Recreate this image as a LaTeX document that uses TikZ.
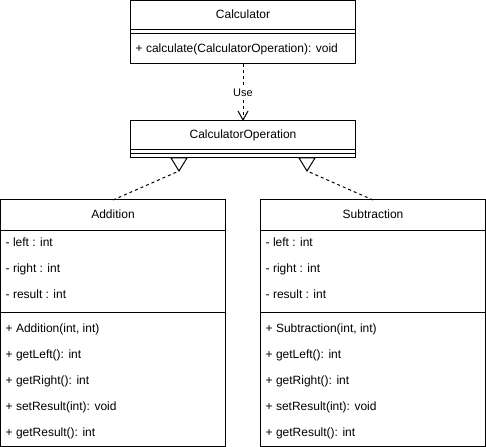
\documentclass[tikz,border=0pt]{standalone}
\usepackage{fontspec}
\setmainfont{Liberation Sans}
\usetikzlibrary{arrows.meta}
\begin{document}
\begin{tikzpicture}[x=1bp,y=-1bp,
  box/.style={draw, line width=1bp, anchor=north west, inner sep=0pt, outer sep=0pt, minimum width=225bp},
  lbl/.style={inner sep=0pt, font=\fontsize{12bp}{14bp}\selectfont, text height=8.6bp, text depth=2.4bp},
  member/.style={lbl, anchor=west},
  sepline/.style={line width=1bp},
  dep/.style={line width=1bp, dash pattern=on 3bp off 3bp},
  gen/.style={line width=1bp, fill=white, line join=miter}
]
\useasboundingbox (0,0) rectangle (486,447);

% boxes
\node[box, minimum height=63bp] (calc) at (130.5,1) {};
\node[box, minimum height=37bp] (calcop) at (130.5,121) {};
\node[box, minimum height=246bp] (add) at (0.5,200) {};
\node[box, minimum height=246bp] (sub) at (260.5,200) {};

% compartments
\draw[sepline] (calc.west |- 0,30) -- (calc.east |- 0,30);
\draw[sepline] (calc.west |- 0,34) -- (calc.east |- 0,34);
\draw[sepline] (calcop.west |- 0,150) -- (calcop.east |- 0,150);
\draw[sepline] (calcop.west |- 0,154) -- (calcop.east |- 0,154);
\draw[sepline] (add.west |- 0,230) -- (add.east |- 0,230);
\draw[sepline] (add.west |- 0,312) -- (add.east |- 0,312);
\draw[sepline] (sub.west |- 0,230) -- (sub.east |- 0,230);
\draw[sepline] (sub.west |- 0,312) -- (sub.east |- 0,312);

% names
\node[lbl] (calcname) at (243,15.5) {Calculator};
\node[lbl] (calcopname) at (243,135.5) {CalculatorOperation};
\node[lbl] (addname) at (113,215) {Addition};
\node[lbl] (subname) at (373,215) {Subtraction};

% Calculator members
\node[member] (cm1) at (135.5,49.5) {+ calculate(CalculatorOperation): void};

% Addition members
\node[member] (aa1) at (5.5,243) {- left : int};
\node[member] (aa2) at (5.5,269) {- right : int};
\node[member] (aa3) at (5.5,295) {- result : int};
\node[member] (am1) at (5.5,329.5) {+ Addition(int, int)};
\node[member] (am2) at (5.5,355) {+ getLeft(): int};
\node[member] (am3) at (5.5,381) {+ getRight(): int};
\node[member] (am4) at (5.5,407) {+ setResult(int): void};
\node[member] (am5) at (5.5,433) {+ getResult(): int};

% Subtraction members
\node[member] (sa1) at (265.5,243) {- left : int};
\node[member] (sa2) at (265.5,269) {- right : int};
\node[member] (sa3) at (265.5,295) {- result : int};
\node[member] (sm1) at (265.5,329.5) {+ Subtraction(int, int)};
\node[member] (sm2) at (265.5,355) {+ getLeft(): int};
\node[member] (sm3) at (265.5,381) {+ getRight(): int};
\node[member] (sm4) at (265.5,407) {+ setResult(int): void};
\node[member] (sm5) at (265.5,433) {+ getResult(): int};

% Use dependency
\draw[dep, -{Straight Barb[length=9bp, width=10bp]}] (calc.south) -- node[fill=white, inner sep=1bp, font=\fontsize{11bp}{13bp}\selectfont] (uselbl) {Use} (calcop.north);

% generalizations
\coordinate (la) at (179,171);
\coordinate (l1) at (171,158);
\coordinate (l2) at (187,158);
\coordinate (ra) at (307,171);
\coordinate (r1) at (299,158);
\coordinate (r2) at (315,158);
\draw[dep] (add.north) -- (la);
\draw[dep] (sub.north) -- (ra);
\draw[gen] (l1) -- (la) -- (l2) -- cycle;
\draw[gen] (r1) -- (ra) -- (r2) -- cycle;
\end{tikzpicture}
\end{document}
